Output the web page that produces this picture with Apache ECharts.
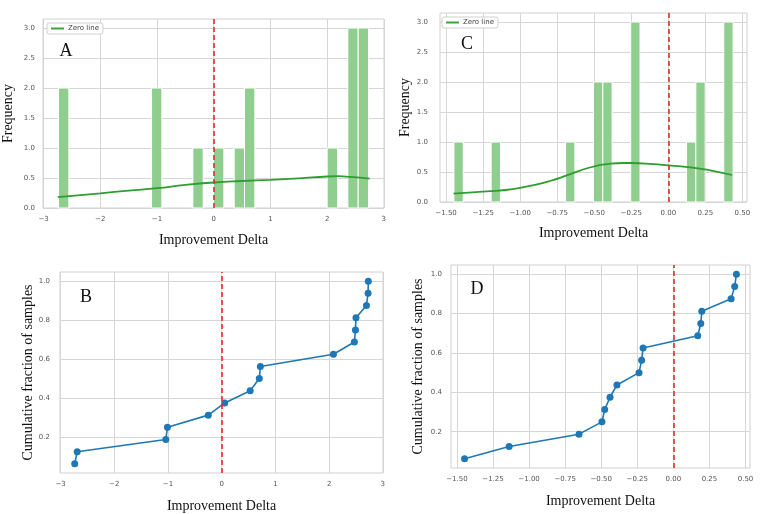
<!DOCTYPE html>
<html><head><meta charset="utf-8">
<script src="https://cdn.jsdelivr.net/npm/echarts@6/dist/echarts.min.js"></script>
<style>html,body{margin:0;padding:0;background:#fff}#c{width:762px;height:514px}</style>
</head><body><div id="c"></div>
<script>
// Samples (improvement deltas)
const sampleA = [-2.736, -2.69, -1.04, -1.01, -0.25, 0.056, 0.53, 0.70, 0.72, 2.08, 2.47, 2.49, 2.50, 2.695, 2.725, 2.73];
const sampleC = [-1.447, -1.138, -0.654, -0.495, -0.476, -0.439, -0.391, -0.238, -0.22, -0.21, 0.169, 0.19, 0.197, 0.40, 0.425, 0.437];
// KDE curves (as drawn)
const kdeA = [[-2.75,0.18],[-2.0,0.245],[-1.5,0.29],[-1.0,0.33],[-0.5,0.385],[0,0.425],[0.5,0.45],[1.0,0.47],[1.5,0.495],[2.0,0.525],[2.2,0.53],[2.4,0.52],[2.75,0.49]];
const kdeC = [[-1.45,0.14],[-1.3,0.165],[-1.2,0.18],[-1.1,0.2],[-1.0,0.235],[-0.9,0.285],[-0.8,0.35],[-0.7,0.43],[-0.6,0.52],[-0.5,0.595],[-0.4,0.635],[-0.3,0.65],[-0.25,0.65],[-0.1,0.63],[0,0.61],[0.1,0.59],[0.2,0.56],[0.3,0.52],[0.43,0.45]];
const binCount = 30;
// Tick values
const xTicksA = [-3,-2,-1,0,1,2,3];
const xTicksC = [-1.5,-1.25,-1.0,-0.75,-0.5,-0.25,0,0.25,0.5];
const yTicksHist = [0,0.5,1,1.5,2,2.5,3];
const yTicksEcdf = [0.2,0.4,0.6,0.8,1.0];
const panelLetters = ['A','B','C','D'];
const zeroLine = 0;

function hist(s, nb){
  const mn = Math.min(...s), mx = Math.max(...s), w = (mx-mn)/nb;
  const c = new Array(nb).fill(0);
  s.forEach(v => { c[Math.min(nb-1, Math.floor((v-mn)/w + 1e-9))]++; });
  const out = [];
  c.forEach((n,i) => { if (n>0) out.push([mn+i*w, mn+(i+1)*w, n]); });
  return out;
}
function ecdf(s){ const t=[...s].sort((a,b)=>a-b); return t.map((v,i)=>[v,(i+1)/t.length]); }
const minus = s => String(s).replace('-', '\u2212');

const tickFont = {fontFamily:'DejaVu Sans', fontSize:7, color:'#555'};
const nameFont = {fontFamily:'Liberation Serif', fontSize:14, color:'#111'};
const gridLine = {show:true, lineStyle:{color:'#d6d6d6', width:1}};

function xAx(gi, min, max, ticks, dec, gap){
  return {type:'value', gridIndex:gi, min, max, name:'Improvement Delta', nameLocation:'middle', nameGap:gap, nameTextStyle:nameFont,
    axisLine:{show:false}, axisTick:{show:false, customValues:ticks},
    axisLabel:Object.assign({customValues:ticks, margin:8, formatter:v=>minus(v.toFixed(dec))}, tickFont),
    splitLine:gridLine};
}
function yAx(gi, min, max, ticks, name, gap, margin){
  return {type:'value', gridIndex:gi, min, max, name, nameLocation:'middle', nameGap:gap, nameTextStyle:nameFont,
    axisLine:{show:false}, axisTick:{show:false, customValues:ticks},
    axisLabel:Object.assign({customValues:ticks, margin, formatter:v=>v.toFixed(1)}, tickFont),
    splitLine:gridLine};
}
const redMark = {silent:true, symbol:['none','none'], label:{show:false}, animation:false,
  lineStyle:{color:'#e8282a', type:[5,3], width:1.6}, data:[{xAxis:zeroLine}]};
function barItem(params, api){
  const p0 = api.coord([api.value(0), 0]);
  const p1 = api.coord([api.value(1), api.value(2)]);
  return {type:'rect', shape:{x:p0[0], y:p1[1], width:p1[0]-p0[0], height:p0[1]-p1[1]},
    style:{fill:'#8fce8f', stroke:'#fff', lineWidth:1}};
}
const gridBox = {show:true, borderColor:'#d0d0d0', borderWidth:1, backgroundColor:'#fff'};
const legendBase = {data:[{name:'Zero line', icon:'rect'}], padding:[2,4], itemWidth:13, itemHeight:2, itemGap:4,
  borderColor:'#d0d0d0', borderWidth:1, borderRadius:2, backgroundColor:'#fff',
  textStyle:{fontFamily:'DejaVu Sans', fontSize:7, color:'#444', padding:[0,0,0,-1]}};

const option = {
  animation:false,
  backgroundColor:'#fff',
  grid:[
    Object.assign({left:43, top:19, width:341, height:189}, gridBox),
    Object.assign({left:60, top:272, width:323, height:201}, gridBox),
    Object.assign({left:440, top:13, width:307, height:189}, gridBox),
    Object.assign({left:451, top:265, width:299, height:203}, gridBox)
  ],
  xAxis:[
    xAx(0, -3.01, 3.003, xTicksA, 0, 25),
    xAx(1, -3.01, 3.003, xTicksA, 0, 26),
    xAx(2, -1.541, 0.531, xTicksC, 2, 24),
    xAx(3, -1.541, 0.531, xTicksC, 2, 26)
  ],
  yAxis:[
    yAx(0, 0, 3.15, yTicksHist, 'Frequency', 28, 8),
    yAx(1, 0.0156, 1.047, yTicksEcdf, 'Cumulative fraction of samples', 25, 10),
    yAx(2, 0, 3.15, yTicksHist, 'Frequency', 28, 12),
    yAx(3, 0.0156, 1.047, yTicksEcdf, 'Cumulative fraction of samples', 26, 9)
  ],
  legend:[
    Object.assign({left:47, top:23}, legendBase),
    Object.assign({left:442, top:17}, legendBase)
  ],
  graphic: panelLetters.map((t,i)=>({type:'text', z:100,
    style:{text:t, x:[66,86,467,477][i], y:[51,297.5,44.5,289.5][i], font:'18px "Liberation Serif"', fill:'#111', align:'center', verticalAlign:'middle'}})),
  series:[
    {type:'custom', xAxisIndex:0, yAxisIndex:0, renderItem:barItem, data:hist(sampleA, binCount), encode:{x:[0,1], y:2}, z:2},
    {type:'line', name:'Zero line', xAxisIndex:0, yAxisIndex:0, data:kdeA, smooth:true, symbol:'none', lineStyle:{color:'#2e9e2e', width:1.8}, itemStyle:{color:'#3aa63a'}, z:3, markLine:redMark},
    {type:'line', xAxisIndex:1, yAxisIndex:1, data:ecdf(sampleA), symbol:'circle', symbolSize:7, lineStyle:{color:'#1f77b4', width:1.6}, itemStyle:{color:'#1f77b4'}, z:3, markLine:redMark},
    {type:'custom', xAxisIndex:2, yAxisIndex:2, renderItem:barItem, data:hist(sampleC, binCount), encode:{x:[0,1], y:2}, z:2},
    {type:'line', name:'Zero line', xAxisIndex:2, yAxisIndex:2, data:kdeC, smooth:true, symbol:'none', lineStyle:{color:'#2e9e2e', width:1.8}, itemStyle:{color:'#3aa63a'}, z:3, markLine:redMark},
    {type:'line', xAxisIndex:3, yAxisIndex:3, data:ecdf(sampleC), symbol:'circle', symbolSize:7, lineStyle:{color:'#1f77b4', width:1.6}, itemStyle:{color:'#1f77b4'}, z:3, markLine:redMark}
  ]
};
echarts.init(document.getElementById('c'), null, {renderer:'canvas'}).setOption(option);
</script>
</body></html>
